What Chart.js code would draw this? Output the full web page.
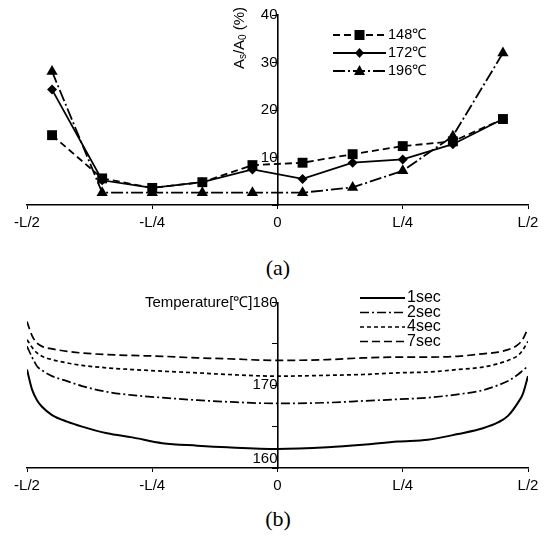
<!DOCTYPE html>
<html>
<head>
<meta charset="utf-8">
<script src="https://cdn.jsdelivr.net/npm/chart.js@4.4.1/dist/chart.umd.min.js"></script>
<style>
    body { margin: 0; background: #fff; }
    #wrap { position: relative; width: 551px; height: 536px; }
    canvas { position: absolute; left: 0; }
    .cap { position: absolute; left: 0; width: 556px; text-align: center; font-family: "Liberation Serif", "Times New Roman", serif; font-size: 22px; color: #000; }
</style>
</head>
<body>
<div id="wrap">
    <canvas id="grapheA" width="551" height="237" style="top:0"></canvas>
    <div class="cap" style="top:255px">(a)</div>
    <canvas id="grapheB" width="551" height="220" style="top:280px"></canvas>
    <div class="cap" style="top:506px">(b)</div>
</div>
<script>
// Positions le long de la piece (fraction de L)
const positionsA = [-0.45, -0.35, -0.25, -0.15, -0.05, 0.05, 0.15, 0.25, 0.35, 0.45];
// As/A0 (%) pour chaque temperature
const ratio148 = [14.7, 5.6, 3.6, 4.8, 8.4, 8.9, 10.7, 12.4, 13.4, 18.1];
const ratio172 = [24.3, 5.2, 3.6, 4.8, 7.5, 5.5, 8.9, 9.6, 12.8, 18.1];
const ratio196 = [28.1, 2.6, 2.6, 2.6, 2.6, 2.6, 3.7, 7.2, 14.5, 32.0];
const seriesA = ["148\u2103", "172\u2103", "196\u2103"];

// Graduations de l'axe X (communes aux deux graphes)
const tickPos = [-0.5, -0.25, 0, 0.25, 0.5];
const tickLabels = ["-L/2", "-L/4", "0", "L/4", "L/2"];

// Profils de temperature (b)
const positionsB = [-0.5, -0.49, -0.48, -0.47, -0.45, -0.42, -0.39, -0.34, -0.29, -0.23, -0.16, -0.1, 0,
                    0.1, 0.17, 0.24, 0.3, 0.36, 0.41, 0.44, 0.46, 0.48, 0.49, 0.5];
const temp1s = [171.9, 169.5, 168.2, 167.4, 166.4, 165.6, 165.0, 164.2, 163.7, 163.0, 162.7, 162.5, 162.3,
                162.5, 162.8, 163.2, 163.4, 164.1, 164.8, 165.5, 166.3, 167.9, 169.0, 171.1];
const temp2s = [174.7, 173.4, 172.3, 171.8, 171.1, 170.5, 169.9, 169.2, 168.8, 168.5, 168.2, 168.0, 167.8,
                167.9, 168.1, 168.3, 168.5, 168.9, 169.4, 170.0, 170.5, 171.3, 171.8, 172.3];
const temp4s = [175.5, 174.6, 173.9, 173.5, 173.1, 172.7, 172.4, 172.1, 171.9, 171.7, 171.5, 171.3, 171.1,
                171.2, 171.3, 171.5, 171.6, 171.9, 172.2, 172.6, 173.0, 173.6, 174.3, 175.3];
const temp7s = [177.7, 176.0, 175.1, 174.7, 174.4, 174.1, 173.9, 173.7, 173.6, 173.5, 173.3, 173.2, 173.0,
                173.1, 173.3, 173.4, 173.4, 173.5, 173.8, 174.0, 174.3, 174.9, 175.6, 176.9];
const seriesB = ["1sec", "2sec", "4sec", "7sec"];

Chart.defaults.font.family = '"Liberation Sans", Arial, sans-serif';
Chart.defaults.font.size = 15;
Chart.defaults.color = "#000";

function points(xs, ys) {
    return xs.map((x, i) => ({ x: x, y: ys[i] }));
}

// Petit marqueur pour la legende
function marqueur(ctx, style, x, y) {
    ctx.beginPath();
    if (style === "rect") {
        ctx.rect(x - 5, y - 5, 10, 10);
    } else if (style === "rectRot") {
        ctx.moveTo(x, y - 5); ctx.lineTo(x + 4.5, y); ctx.lineTo(x, y + 5); ctx.lineTo(x - 4.5, y);
        ctx.closePath();
    } else if (style === "triangle") {
        ctx.moveTo(x, y - 6); ctx.lineTo(x + 5.5, y + 4); ctx.lineTo(x - 5.5, y + 4);
        ctx.closePath();
    } else {
        return;
    }
    ctx.fill();
}

// Legende dessinee a la main : trait + marqueur + texte
const legendeMaison = {
    id: "legendeMaison",
    afterDraw(chart, args, opts) {
        const ctx = chart.ctx;
        ctx.save();
        ctx.fillStyle = "#000";
        ctx.strokeStyle = "#000";
        ctx.font = opts.taille + 'px "Liberation Sans", Arial, sans-serif';
        ctx.textBaseline = "middle";
        chart.data.datasets.forEach((ds, i) => {
            const y = opts.y + i * opts.pas;
            ctx.lineWidth = ds.borderWidth;
            ctx.setLineDash(ds.borderDash || []);
            ctx.beginPath();
            ctx.moveTo(opts.x, y);
            ctx.lineTo(opts.x + opts.longueur, y);
            ctx.stroke();
            ctx.setLineDash([]);
            if (ds.pointRadius > 0) marqueur(ctx, ds.pointStyle, opts.x + opts.longueur / 2, y);
            ctx.fillText(ds.label, opts.x + opts.longueur + 2, y);
        });
        // titre de l'axe Y (graphe a)
        if (opts.titreY) {
            ctx.translate(opts.titreY.x, opts.titreY.y);
            ctx.rotate(-Math.PI / 2);
            const parts = [["A", 0], ["s", 1], ["/A", 0], ["0", 1], [" (%)", 0]];
            const big = '15px "Liberation Sans", Arial, sans-serif';
            const small = '10px "Liberation Sans", Arial, sans-serif';
            let total = 0;
            parts.forEach(p => { ctx.font = p[1] ? small : big; total += ctx.measureText(p[0]).width; });
            let x = -total / 2;
            parts.forEach(p => {
                ctx.font = p[1] ? small : big;
                ctx.fillText(p[0], x, p[1] ? 3 : 0);
                x += ctx.measureText(p[0]).width;
            });
        }
        ctx.restore();
    }
};

function axeX() {
    return {
        type: "linear",
        position: "bottom",
        min: -0.5,
        max: 0.5,
        afterBuildTicks: (scale) => { scale.ticks = tickPos.map(v => ({ value: v })); },
        ticks: { callback: (v, i) => tickLabels[i], padding: 5, maxRotation: 0, autoSkip: false },
        grid: { drawOnChartArea: false, tickLength: 4, color: "#000", lineWidth: 1 },
        border: { color: "#000", width: 1.6 }
    };
}

// Graphe (a)
new Chart(document.getElementById("grapheA").getContext("2d"), {
    type: "line",
    data: {
        datasets: [{
            label: seriesA[0],
            data: points(positionsA, ratio148),
            borderColor: "#000", backgroundColor: "#000", borderWidth: 1.8,
            borderDash: [7, 4], pointStyle: "rect", pointRadius: 7, pointBorderWidth: 0
        }, {
            label: seriesA[1],
            data: points(positionsA, ratio172),
            borderColor: "#000", backgroundColor: "#000", borderWidth: 1.8,
            borderDash: [], pointStyle: "rectRot", pointRadius: 5, pointBorderWidth: 0
        }, {
            label: seriesA[2],
            data: points(positionsA, ratio196),
            borderColor: "#000", backgroundColor: "#000", borderWidth: 1.8,
            borderDash: [12, 3, 2, 3], pointStyle: "triangle", pointRadius: 6.5, pointBorderWidth: 0
        }]
    },
    options: {
        responsive: false,
        animation: false,
        layout: { padding: { left: 27, right: 23, top: 15, bottom: 0 } },
        plugins: {
            legend: { display: false },
            tooltip: { enabled: false },
            legendeMaison: { x: 333, y: 35, pas: 18, longueur: 53, taille: 14.5, titreY: { x: 240, y: 38 } }
        },
        scales: {
            x: axeX(),
            y: {
                type: "linear",
                position: { x: 0 },
                min: 0,
                max: 40,
                ticks: { stepSize: 10, callback: v => (v === 0 ? "" : v), padding: 3 },
                grid: { drawOnChartArea: false, tickLength: 5, color: "#000", lineWidth: 1 },
                border: { color: "#000", width: 1.6 }
            }
        }
    },
    plugins: [legendeMaison]
});

// Graphe (b)
const stylesB = [[], [9, 3, 2, 3], [4, 3], [8, 4]];
const tempsB = [temp1s, temp2s, temp4s, temp7s];
new Chart(document.getElementById("grapheB").getContext("2d"), {
    type: "line",
    data: {
        datasets: seriesB.map((nom, i) => ({
            label: nom,
            data: points(positionsB, tempsB[i]),
            borderColor: "#000",
            borderWidth: i === 0 ? 2 : 1.7,
            borderDash: stylesB[i],
            pointRadius: 0,
            cubicInterpolationMode: "monotone"
        }))
    },
    options: {
        responsive: false,
        animation: false,
        layout: { padding: { left: 27, right: 23, top: 22.5, bottom: 0 } },
        plugins: {
            legend: { display: false },
            tooltip: { enabled: false },
            legendeMaison: { x: 360, y: 18, pas: 14.5, longueur: 45, taille: 16 }
        },
        scales: {
            x: axeX(),
            y: {
                type: "linear",
                position: { x: 0 },
                min: 160,
                max: 180,
                ticks: {
                    stepSize: 5,
                    padding: 3,
                    callback: v => {
                        if (v === 180) return "Temperature[\u2103]180";
                        if (v === 170) return "170";
                        if (v === 160) return ["160", ""];
                        return "";
                    }
                },
                grid: { drawOnChartArea: false, tickLength: 5, color: "#000", lineWidth: 1 },
                border: { color: "#000", width: 1.6 }
            }
        }
    },
    plugins: [legendeMaison]
});
</script>
</body>
</html>
